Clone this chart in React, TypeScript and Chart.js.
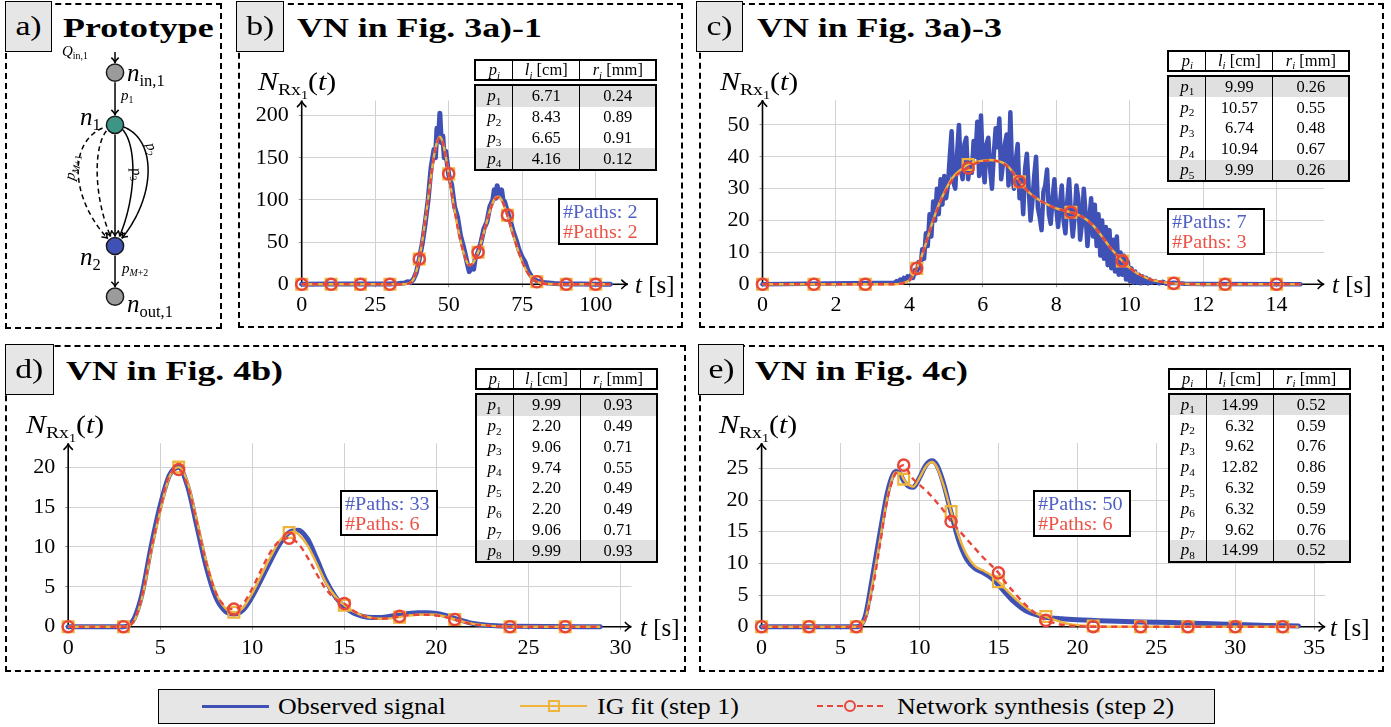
import React, { useEffect, useRef } from "react";
import { Chart, registerables } from "chart.js";

Chart.register(...registerables);

const FONT = "'Liberation Serif', 'Times New Roman', serif";
const BLUE = "#3f51b5";
const ORANGE = "#efb43c";
const RED = "#e8463a";
const GRID = "#d2d2d2";
const BOXGRAY = "#e6e6e6";

type Pt = [number, number];

// ---------------- b) VN in Fig. 3a)-1 ----------------
const bXTicks = [0, 25, 50, 75, 100];
const bYTicks = [0, 50, 100, 150, 200];
const bMarkX = [0, 10, 20, 30, 40, 50, 60, 70, 80, 90, 100];
const bObserved: Pt[] = [
  [0, 0], [10, 0.3], [20, 0.3], [30, 0.5], [33, 1], [35, 1.5], [36, 3], [37, 2], [38, 6], [39, 14],
  [40, 30], [41, 48], [42, 72], [43, 100], [44, 138], [45, 160], [45.5, 150], [46, 185], [46.5, 170],
  [47, 203], [47.5, 168], [48, 176], [48.5, 150], [49, 158], [50, 130], [51, 118], [52, 92], [53, 80],
  [54, 58], [55, 45], [56, 30], [56.5, 22], [57, 15], [58, 22], [58.5, 18], [59, 30], [60, 38], [61, 50],
  [62, 66], [63, 74], [64, 92], [65, 100], [65.5, 112], [66, 102], [66.5, 117], [67, 105], [68, 112],
  [68.5, 100], [69, 98], [70, 86], [71, 75], [72, 62], [73, 52], [74, 40], [75, 32], [76, 26], [77, 16],
  [78, 10], [79, 6], [80, 4], [81, 3], [82, 2], [84, 1.5], [86, 1], [90, 0.5], [95, 0.3], [100, 0.2], [105, 0],
];
const bFit: Pt[] = [
  [0, 0], [10, 0], [20, 0], [30, 0], [34, 0.1], [36, 0.8], [38, 6], [40, 30], [42, 75], [44, 128], [45, 152],
  [46, 168], [47, 175], [48, 168], [49, 152], [50, 131], [52, 88], [54, 52], [56, 28], [57, 22.5], [58, 24],
  [60, 38], [62, 62], [64, 87], [65, 97], [66, 103], [67, 104], [68, 100], [70, 82], [72, 58], [74, 36],
  [76, 19], [78, 8], [80, 3], [82, 1], [85, 0.3], [90, 0], [100, 0], [105, 0],
];
const bSynth: Pt[] = [
  [0, 0], [10, 0], [20, 0], [30, 0], [34, 0.1], [36, 0.8], [38, 6], [40, 30], [42, 74], [44, 127], [45, 151],
  [46, 167], [47, 174], [48, 168], [49, 152], [50, 131], [52, 88], [54, 52], [56, 28], [57, 22.5], [58, 24],
  [60, 38], [62, 62], [64, 86], [65, 96], [66, 102], [67, 103], [68, 100], [70, 82], [72, 58], [74, 36],
  [76, 19], [78, 8], [80, 3], [82, 1], [85, 0.3], [90, 0], [100, 0], [105, 0],
];
const bLengths = ["6.71", "8.43", "6.65", "4.16"];
const bRadii = ["0.24", "0.89", "0.91", "0.12"];
const bPaths = [2, 2];

// ---------------- c) VN in Fig. 3a)-3 ----------------
const cXTicks = [0, 2, 4, 6, 8, 10, 12, 14];
const cYTicks = [0, 10, 20, 30, 40, 50];
const cMarkX = [0, 1.4, 2.8, 4.2, 5.6, 7, 8.4, 9.8, 11.2, 12.6, 14];
const cObserved: Pt[] = [
  [0, 0], [3.6, 0.5], [3.65, 1], [3.7, 0.6], [3.75, 1.5], [3.8, 1], [3.85, 2], [3.9, 1.2], [3.95, 2.5],
  [4.0, 1.5], [4.05, 3], [4.1, 2], [4.15, 4.5], [4.2, 3.5], [4.25, 7], [4.3, 5], [4.35, 11], [4.4, 8],
  [4.45, 16], [4.5, 12], [4.55, 22], [4.6, 15], [4.65, 26], [4.7, 20], [4.75, 30], [4.8, 22], [4.85, 33],
  [4.9, 25], [4.95, 34], [5.0, 27], [5.05, 31], [5.1, 40], [5.15, 48], [5.2, 32], [5.25, 30], [5.3, 41],
  [5.35, 50], [5.4, 36], [5.45, 33], [5.5, 44], [5.55, 46], [5.6, 33], [5.65, 38], [5.7, 35], [5.75, 45],
  [5.8, 40], [5.85, 51], [5.9, 34], [5.95, 53], [6.0, 37], [6.05, 32], [6.1, 44], [6.15, 46], [6.2, 36],
  [6.25, 30], [6.3, 41], [6.35, 49], [6.4, 43], [6.45, 52], [6.5, 33], [6.55, 38], [6.6, 44], [6.65, 47],
  [6.7, 31], [6.75, 54], [6.8, 34], [6.85, 30], [6.9, 39], [6.95, 44], [7.0, 27], [7.05, 33], [7.1, 22],
  [7.15, 36], [7.2, 41], [7.25, 30], [7.3, 20], [7.35, 26], [7.4, 34], [7.45, 40], [7.5, 24], [7.55, 21],
  [7.6, 17], [7.65, 29], [7.7, 31], [7.75, 36], [7.8, 22], [7.85, 19], [7.9, 27], [7.95, 33], [8.0, 24],
  [8.05, 18], [8.1, 25], [8.15, 31], [8.2, 20], [8.25, 16], [8.3, 26], [8.35, 33], [8.4, 22], [8.45, 15],
  [8.5, 21], [8.55, 31], [8.6, 27], [8.65, 14], [8.7, 19], [8.75, 30], [8.8, 22], [8.85, 12], [8.9, 20],
  [8.95, 27], [9.0, 15], [9.05, 25], [9.1, 12], [9.15, 22], [9.2, 9], [9.25, 20], [9.3, 8], [9.35, 18],
  [9.4, 6], [9.45, 17], [9.5, 5], [9.55, 14], [9.6, 4], [9.65, 15], [9.7, 3], [9.75, 10], [9.8, 3],
  [9.85, 9], [9.9, 1.5], [9.95, 7], [10.0, 1], [10.05, 5], [10.1, 0.5], [10.15, 4], [10.2, 0.5],
  [10.25, 3], [10.3, 0.3], [10.35, 2.5], [10.4, 0.5], [10.45, 2], [10.5, 0.3], [10.55, 1.5], [10.6, 0.5],
  [10.7, 1], [10.8, 0.3], [10.9, 0.8], [11.0, 0.2], [11.2, 0.5], [11.5, 0.2], [12, 0.1], [14.65, 0],
];
const cFit: Pt[] = [
  [0, 0], [1.4, 0], [2.8, 0], [3.6, 0], [3.8, 0.3], [4, 1.3], [4.2, 5], [4.4, 11], [4.6, 18.5], [4.8, 25],
  [5, 30], [5.2, 33.8], [5.4, 36], [5.6, 37.6], [5.8, 38.4], [6, 38.8], [6.2, 39], [6.4, 38.7], [6.6, 37.8],
  [6.8, 35.5], [7, 32.2], [7.2, 29.5], [7.4, 27.5], [7.6, 26], [7.8, 24.8], [8, 23.8], [8.2, 23.2],
  [8.4, 22.6], [8.6, 21.8], [8.8, 20.5], [9, 18.5], [9.2, 15.7], [9.4, 12.6], [9.6, 9.8], [9.8, 7.3],
  [10, 5.2], [10.2, 3.5], [10.4, 2.3], [10.6, 1.4], [10.8, 0.9], [11, 0.5], [11.2, 0.3], [11.6, 0.1],
  [12, 0], [12.6, 0], [14, 0], [14.65, 0],
];
const cSynth: Pt[] = [
  [0, 0], [1.4, 0], [2.8, 0], [3.6, 0], [3.8, 0.3], [4, 1.3], [4.2, 5], [4.4, 11], [4.6, 18.3], [4.8, 24.6],
  [5, 29.5], [5.2, 33.2], [5.4, 35.3], [5.6, 36.5], [5.8, 37.9], [6, 38.6], [6.2, 38.9], [6.4, 38.6], [6.6, 37.6],
  [6.8, 35.3], [7, 32.2], [7.2, 29.5], [7.4, 27.5], [7.6, 26], [7.8, 24.8], [8, 23.8], [8.2, 23.2],
  [8.4, 22.6], [8.6, 21.8], [8.8, 20.5], [9, 18.5], [9.2, 15.7], [9.4, 12.6], [9.6, 9.8], [9.8, 7.3],
  [10, 5.2], [10.2, 3.5], [10.4, 2.3], [10.6, 1.4], [10.8, 0.9], [11, 0.5], [11.2, 0.3], [11.6, 0.1],
  [12, 0], [12.6, 0], [14, 0], [14.65, 0],
];
const cLengths = ["9.99", "10.57", "6.74", "10.94", "9.99"];
const cRadii = ["0.26", "0.55", "0.48", "0.67", "0.26"];
const cPaths = [7, 3];

// ---------------- d) VN in Fig. 4b) ----------------
const dXTicks = [0, 5, 10, 15, 20, 25, 30];
const dYTicks = [0, 5, 10, 15, 20];
const dMarkX = [0, 3, 6, 9, 12, 15, 18, 21, 24, 27];
const dObserved: Pt[] = [
  [0, 0], [3, 0], [3.3, 0.2], [3.6, 1.1], [4, 4], [4.5, 10], [5, 15.2], [5.5, 19], [6, 20], [6.5, 17.5],
  [7, 12.5], [7.5, 7.5], [8, 3.8], [8.5, 2], [9, 1.6], [9.5, 2.1], [10, 3.8], [10.5, 6], [11, 8.3],
  [11.5, 10.4], [12, 11.8], [12.5, 12.1], [13, 11], [13.5, 8.5], [14, 5.8], [14.5, 3.8], [15, 2.5],
  [15.5, 1.7], [16, 1.3], [16.5, 1.15], [17, 1.15], [17.5, 1.3], [18, 1.5], [18.5, 1.65], [19, 1.75],
  [19.5, 1.75], [20, 1.65], [20.5, 1.4], [21, 1.05], [21.5, 0.7], [22, 0.4], [23, 0.15], [24, 0.05], [28.9, 0],
];
const dFit: Pt[] = [
  [0, 0], [3, 0], [3.3, 0.1], [3.6, 0.8], [4, 3.5], [4.5, 9.3], [5, 14.5], [5.5, 18.8], [6, 20],
  [6.5, 18], [7, 13.2], [7.5, 8.2], [8, 4.4], [8.5, 2.4], [9, 1.8], [9.5, 2.4], [10, 4.2], [10.5, 6.5],
  [11, 8.8], [11.5, 10.8], [12, 11.8], [12.3, 11.9], [12.5, 11.6], [13, 10.2], [13.5, 7.9], [14, 5.5],
  [14.5, 3.8], [15, 2.7], [15.5, 1.9], [16, 1.4], [16.5, 1.1], [17, 1], [17.5, 1.05], [18, 1.2],
  [18.5, 1.4], [19, 1.5], [19.5, 1.55], [20, 1.5], [20.5, 1.25], [21, 0.9], [21.5, 0.6], [22, 0.35],
  [23, 0.1], [24, 0], [27, 0], [28.9, 0],
];
const dSynth: Pt[] = [
  [0, 0], [3, 0], [3.3, 0.1], [3.6, 0.9], [4, 3.7], [4.5, 9.6], [5, 14.8], [5.5, 19], [6, 19.7],
  [6.5, 17.6], [7, 12.9], [7.5, 8], [8, 4.4], [8.5, 2.6], [9, 2.2], [9.5, 2.9], [10, 4.8], [10.5, 7.2],
  [11, 9.4], [11.5, 10.8], [12, 11.1], [12.5, 10.4], [13, 8.7], [13.5, 6.6], [14, 4.7], [14.5, 3.5],
  [15, 2.9], [15.5, 2], [16, 1.4], [16.5, 1.1], [17, 1], [17.5, 1.1], [18, 1.3], [18.5, 1.45], [19, 1.5],
  [19.5, 1.5], [20, 1.4], [20.5, 1.2], [21, 0.9], [21.5, 0.55], [22, 0.3], [23, 0.1], [24, 0], [27, 0], [28.9, 0],
];
const dLengths = ["9.99", "2.20", "9.06", "9.74", "2.20", "2.20", "9.06", "9.99"];
const dRadii = ["0.93", "0.49", "0.71", "0.55", "0.49", "0.49", "0.71", "0.93"];
const dPaths = [33, 6];

// ---------------- e) VN in Fig. 4c) ----------------
const eXTicks = [0, 5, 10, 15, 20, 25, 30, 35];
const eYTicks = [0, 5, 10, 15, 20, 25];
const eMarkX = [0, 3, 6, 9, 12, 15, 18, 21, 24, 27, 30, 33];
const eObserved: Pt[] = [
  [0, 0], [6, 0], [6.3, 0.3], [6.6, 2], [7, 7.5], [7.5, 14.8], [8, 21.5], [8.5, 24.5], [8.8, 24],
  [9, 23], [9.3, 22.2], [9.6, 22], [10, 23.5], [10.4, 25.5], [10.8, 26.2], [11.1, 25.5], [11.5, 22.8],
  [12, 18], [12.5, 13.5], [13, 10.6], [13.5, 9.2], [14, 8.6], [14.5, 7.8], [15, 6.6], [15.5, 5.2],
  [16, 3.9], [16.5, 2.9], [17, 2.2], [17.5, 1.8], [18, 1.5], [19, 1.25], [20, 1.1], [22, 0.9], [24, 0.75],
  [26, 0.65], [28, 0.5], [30, 0.35], [32, 0.2], [34, 0.1],
];
const eFit: Pt[] = [
  [0, 0], [3, 0], [6, 0], [6.3, 0.2], [6.6, 1.5], [7, 6.5], [7.5, 13.7], [8, 20.8], [8.5, 24.4],
  [8.8, 24.2], [9, 23.3], [9.3, 22.4], [9.6, 22.1], [10, 23.5], [10.4, 25.3], [10.8, 26], [11.1, 25.2],
  [11.5, 22.5], [12, 18.2], [12.5, 14.2], [13, 11.3], [13.5, 9.6], [14, 8.9], [14.5, 8.2], [15, 7.1],
  [15.5, 5.8], [16, 4.6], [16.5, 3.5], [17, 2.6], [17.5, 2], [18, 1.6], [18.5, 1.1], [19, 0.7],
  [19.5, 0.4], [20, 0.25], [21, 0.1], [22, 0], [24, 0], [27, 0], [30, 0], [33, 0], [34, 0],
];
const eSynth: Pt[] = [
  [0, 0], [3, 0], [6, 0], [6.3, 0.3], [6.6, 1.5], [7, 5.5], [7.5, 13], [8, 20.5], [8.5, 24.3], [9, 25.5],
  [9.5, 23.6], [10, 22.4], [10.5, 21.3], [11, 19.9], [11.5, 18.4], [12, 16.6], [12.5, 15.2], [13, 13.8],
  [13.5, 12.4], [14, 11], [14.5, 9.8], [15, 8.5], [15.5, 6.8], [16, 5.4], [16.5, 4], [17, 2.8],
  [17.5, 1.8], [18, 1], [18.5, 0.6], [19, 0.3], [20, 0.1], [21, 0], [24, 0], [27, 0], [30, 0], [33, 0], [34, 0],
];
const eLengths = ["14.99", "6.32", "9.62", "12.82", "6.32", "6.32", "9.62", "14.99"];
const eRadii = ["0.52", "0.59", "0.76", "0.86", "0.59", "0.59", "0.76", "0.52"];
const ePaths = [50, 6];

// ---------------- a) Prototype network ----------------
const nodeLevels = [4.42, 3.39, 1.0, 0];
const nodeColors = ["#9b9b9b", "#3d9685", BLUE, "#9b9b9b"];
const parallelBends = [0.87, 0.47, -0.47, -0.97];
const parallelDashed = [false, false, true, true];

// ---------------- helpers ----------------
const sub: React.CSSProperties = { fontSize: "0.66em", position: "relative", top: "0.32em", fontStyle: "normal" };

function arrowHead(ctx: CanvasRenderingContext2D, x: number, y: number, ang: number, len = 7.5) {
  const a1 = ang + Math.PI - 0.6;
  const a2 = ang + Math.PI + 0.6;
  ctx.beginPath();
  ctx.moveTo(x + len * Math.cos(a1), y + len * Math.sin(a1));
  ctx.quadraticCurveTo(x - 2 * Math.cos(ang), y - 2 * Math.sin(ang), x, y);
  ctx.quadraticCurveTo(x - 2 * Math.cos(ang), y - 2 * Math.sin(ang), x + len * Math.cos(a2), y + len * Math.sin(a2));
  ctx.stroke();
}

const axesPlugin = {
  id: "axesArrows",
  beforeDatasetsDraw(chart: any) {
    const { ctx, chartArea: a, scales } = chart;
    const x0 = scales.x.getPixelForValue(0);
    const y0 = scales.y.getPixelForValue(0);
    ctx.save();
    ctx.setLineDash([]);
    ctx.strokeStyle = "#000";
    ctx.lineWidth = 1.6;
    ctx.lineCap = "round";
    ctx.beginPath();
    ctx.moveTo(x0, y0);
    ctx.lineTo(a.right - 1, y0);
    ctx.moveTo(x0, y0);
    ctx.lineTo(x0, a.top + 1);
    ctx.stroke();
    arrowHead(ctx, a.right, y0, 0);
    arrowHead(ctx, x0, a.top, -Math.PI / 2);
    ctx.restore();
  },
};

type PlotSpec = {
  canvas: { x: number; y: number; w: number; h: number };
  area: { left: number; right: number; top: number; bottom: number };
  xMax: number;
  yMax: number;
  xTicks: number[];
  yTicks: number[];
  markX: number[];
  observed: Pt[];
  fit: Pt[];
  synth: Pt[];
  noisy: boolean;
  obsWidth: number;
};

function Plot({ s }: { s: PlotSpec }) {
  const ref = useRef<HTMLCanvasElement>(null);
  useEffect(() => {
    const YW = 50;
    const XH = 36;
    const pad = {
      left: s.area.left - s.canvas.x - YW,
      right: s.canvas.x + s.canvas.w - s.area.right,
      top: s.area.top - s.canvas.y,
      bottom: s.canvas.y + s.canvas.h - s.area.bottom - XH,
    };
    const toXY = (arr: Pt[]) => arr.map(([x, y]) => ({ x, y }));
    const markR = (r: number) => (ctx: any) => (ctx.raw && s.markX.includes(ctx.raw.x) ? r : 0);
    const tickFont = { family: FONT, size: 22 };
    const chart = new Chart(ref.current as HTMLCanvasElement, {
      type: "line",
      data: {
        datasets: [
          {
            label: "Network synthesis (step 2)",
            data: toXY(s.synth),
            borderColor: RED,
            borderWidth: 2.4,
            borderDash: [6, 4.5],
            pointStyle: "circle",
            pointRadius: markR(5.6),
            pointBorderColor: RED,
            pointBackgroundColor: "rgba(0,0,0,0)",
            pointBorderWidth: 2.4,
            cubicInterpolationMode: "monotone",
            clip: false,
            order: 1,
          } as any,
          {
            label: "IG fit (step 1)",
            data: toXY(s.fit),
            borderColor: ORANGE,
            borderWidth: 2.4,
            pointStyle: "rect",
            pointRadius: markR(7.6),
            pointBorderColor: ORANGE,
            pointBackgroundColor: "rgba(0,0,0,0)",
            pointBorderWidth: 2.3,
            cubicInterpolationMode: "monotone",
            clip: false,
            order: 2,
          },
          {
            label: "Observed signal",
            data: toXY(s.observed),
            borderColor: BLUE,
            borderWidth: s.obsWidth,
            borderJoinStyle: "round",
            borderCapStyle: "round",
            pointRadius: 0,
            tension: 0,
            cubicInterpolationMode: s.noisy ? "default" : "monotone",
            clip: false,
            order: 3,
          },
        ],
      },
      options: {
        responsive: false,
        maintainAspectRatio: false,
        animation: false,
        devicePixelRatio: 1,
        events: [],
        layout: { autoPadding: false, padding: pad },
        plugins: { legend: { display: false }, tooltip: { enabled: false } },
        scales: {
          x: {
            type: "linear",
            min: 0,
            max: s.xMax,
            afterBuildTicks: (sc: any) => {
              sc.ticks = s.xTicks.map((v) => ({ value: v }));
            },
            afterFit: (sc: any) => {
              sc.height = XH;
            },
            grid: { color: GRID, lineWidth: 1, drawTicks: true, tickLength: 3, tickColor: "#999" },
            border: { display: false },
            ticks: { color: "#000", font: tickFont, padding: 5, maxRotation: 0, autoSkip: false, callback: (v: any) => String(v) },
          },
          y: {
            type: "linear",
            min: 0,
            max: s.yMax,
            afterBuildTicks: (sc: any) => {
              sc.ticks = s.yTicks.map((v) => ({ value: v }));
            },
            afterFit: (sc: any) => {
              sc.width = YW;
            },
            grid: { color: GRID, lineWidth: 1, drawTicks: true, tickLength: 3, tickColor: "#999" },
            border: { display: false },
            ticks: { color: "#000", font: tickFont, padding: 10, autoSkip: false, callback: (v: any) => String(v) },
          },
        },
      } as any,
      plugins: [axesPlugin],
    });
    return () => chart.destroy();
  }, []);
  return (
    <canvas
      ref={ref}
      width={s.canvas.w}
      height={s.canvas.h}
      style={{ position: "absolute", left: s.canvas.x, top: s.canvas.y, width: s.canvas.w, height: s.canvas.h, zIndex: 1 }}
    />
  );
}

function cubicPt(p: number[][], t: number) {
  const u = 1 - t;
  const x = u * u * u * p[0][0] + 3 * u * u * t * p[1][0] + 3 * u * t * t * p[2][0] + t * t * t * p[3][0];
  const y = u * u * u * p[0][1] + 3 * u * u * t * p[1][1] + 3 * u * t * t * p[2][1] + t * t * t * p[3][1];
  return [x, y];
}

const diagramPlugin = {
  id: "diagram",
  beforeDatasetsDraw(chart: any) {
    const { ctx, scales } = chart;
    const cx = scales.x.getPixelForValue(0);
    const unit = Math.abs(scales.x.getPixelForValue(1) - cx);
    const ys = nodeLevels.map((v) => scales.y.getPixelForValue(v));
    const R = 9.6;
    ctx.save();
    ctx.strokeStyle = "#000";
    ctx.lineWidth = 1.5;
    ctx.beginPath();
    ctx.moveTo(cx - 13, ys[0] - 23.5);
    ctx.lineTo(cx, ys[0] - 23.5);
    ctx.lineTo(cx, ys[0] - R);
    ctx.stroke();
    arrowHead(ctx, cx, ys[0] - R, Math.PI / 2, 6.5);
    const straight = (ya: number, yb: number) => {
      ctx.beginPath();
      ctx.moveTo(cx, ya + R);
      ctx.lineTo(cx, yb - R);
      ctx.stroke();
      arrowHead(ctx, cx, yb - R, Math.PI / 2, 6.5);
    };
    straight(ys[0], ys[1]);
    straight(ys[1], ys[2]);
    straight(ys[2], ys[3]);
    const dy = ys[2] - ys[1];
    parallelBends.forEach((b, i) => {
      const bx = b * unit;
      const p = [
        [cx, ys[1]],
        [cx + bx, ys[1] + 0.05 * dy],
        [cx + bx, ys[2] - 0.38 * dy],
        [cx, ys[2]],
      ];
      let tEnd = 1;
      for (let t = 1; t > 0.5; t -= 0.002) {
        const q = cubicPt(p, t);
        if (Math.hypot(q[0] - cx, q[1] - ys[2]) > R + 0.5) {
          tEnd = t;
          break;
        }
      }
      ctx.setLineDash(parallelDashed[i] ? [5, 3.5] : []);
      ctx.beginPath();
      let first = true;
      for (let t = 0.03; t <= tEnd; t += 0.005) {
        const q = cubicPt(p, t);
        if (first) {
          ctx.moveTo(q[0], q[1]);
          first = false;
        } else ctx.lineTo(q[0], q[1]);
      }
      ctx.stroke();
      ctx.setLineDash([]);
      const e = cubicPt(p, tEnd);
      const e0 = cubicPt(p, tEnd - 0.03);
      arrowHead(ctx, e[0], e[1], Math.atan2(e[1] - e0[1], e[0] - e0[0]), 6.5);
    });
    ctx.restore();
  },
};

function Diagram() {
  const ref = useRef<HTMLCanvasElement>(null);
  useEffect(() => {
    const chart = new Chart(ref.current as HTMLCanvasElement, {
      type: "scatter",
      data: {
        datasets: [
          {
            data: nodeLevels.map((v) => ({ x: 0, y: v })),
            pointRadius: 8.6,
            pointBackgroundColor: nodeColors,
            pointBorderColor: "#1a1a1a",
            pointBorderWidth: 1.5,
            clip: false,
          } as any,
        ],
      },
      options: {
        responsive: false,
        animation: false,
        devicePixelRatio: 1,
        events: [],
        layout: { autoPadding: false, padding: 0 },
        plugins: { legend: { display: false }, tooltip: { enabled: false } },
        scales: {
          x: { type: "linear", min: -2.15, max: 2.09, display: false },
          y: { type: "linear", min: -0.617, max: 4.826, display: false },
        },
      } as any,
      plugins: [diagramPlugin],
    });
    return () => chart.destroy();
  }, []);
  return <canvas ref={ref} width={215} height={276} style={{ position: "absolute", left: 6, top: 52, width: 215, height: 276, zIndex: 1 }} />;
}

function Txt(props: {
  x: number;
  y: number;
  size: number;
  children: React.ReactNode;
  italic?: boolean;
  bold?: boolean;
  sx?: number;
  color?: string;
  rot?: number;
  center?: boolean;
}) {
  const { x, y, size, children, italic, bold, sx = 1, color = "#000", rot, center } = props;
  const tr = `${center ? "translate(-50%,-50%)" : "translateY(-50%)"}${rot ? ` rotate(${rot}deg)` : ""} scaleX(${sx})`;
  return (
    <div
      style={{
        position: "absolute",
        left: x,
        top: y,
        fontFamily: FONT,
        fontSize: size,
        fontStyle: italic ? "italic" : "normal",
        fontWeight: bold ? 700 : 400,
        lineHeight: 1,
        whiteSpace: "nowrap",
        color,
        transform: tr,
        transformOrigin: center ? "center" : "left center",
        zIndex: 3,
      }}
    >
      {children}
    </div>
  );
}

function DashedBox({ x, y, w, h }: { x: number; y: number; w: number; h: number }) {
  return <div style={{ position: "absolute", left: x, top: y, width: w, height: h, border: "2px dashed #000", boxSizing: "border-box", zIndex: 0 }} />;
}

function LabelBox({ x, y, w, text }: { x: number; y: number; w: number; text: string }) {
  return (
    <div
      style={{
        position: "absolute",
        left: x,
        top: y,
        width: w,
        height: 51,
        background: BOXGRAY,
        border: "1.6px solid #000",
        boxSizing: "border-box",
        display: "flex",
        alignItems: "center",
        justifyContent: "center",
        fontFamily: FONT,
        fontSize: 27,
        zIndex: 4,
      }}
    >
      <span style={{ display: "inline-block", transform: "scaleX(1.25)" }}>{text}</span>
    </div>
  );
}

function Title({ x, y, text }: { x: number; y: number; text: string }) {
  return (
    <Txt x={x} y={y} size={28} bold sx={1.28}>
      {text}
    </Txt>
  );
}

function NLabel({ x, y }: { x: number; y: number }) {
  return (
    <Txt x={x} y={y} size={26} sx={1.15}>
      <i>N</i>
      <span style={sub}>
        Rx<span style={{ fontSize: "0.72em", position: "relative", top: "0.25em" }}>1</span>
      </span>
      (<i>t</i>)
    </Txt>
  );
}

function TLabel({ x, y }: { x: number; y: number }) {
  return (
    <Txt x={x} y={y} size={25}>
      <i>t</i> [s]
    </Txt>
  );
}

function ParamTable({ x, y, lengths, radii }: { x: number; y: number; lengths: string[]; radii: string[] }) {
  const cols = [37, 67, 75];
  const rowH = 20.8;
  const cell = (i: number, content: React.ReactNode) => (
    <div
      key={i}
      style={{
        width: cols[i],
        height: "100%",
        boxSizing: "border-box",
        borderRight: i < 2 ? "1.5px solid #000" : "none",
        display: "flex",
        alignItems: "center",
        justifyContent: "center",
      }}
    >
      {content}
    </div>
  );
  return (
    <div style={{ position: "absolute", left: x, top: y, width: 183, fontFamily: FONT, fontSize: 16.5, zIndex: 3 }}>
      <div style={{ display: "flex", height: 21.5, border: "2px solid #000", boxSizing: "border-box", background: "#fff" }}>
        {cell(0, <span><i>p</i><span style={sub}><i>i</i></span></span>)}
        {cell(1, <span><i>l</i><span style={sub}><i>i</i></span> [cm]</span>)}
        {cell(2, <span><i>r</i><span style={sub}><i>i</i></span> [mm]</span>)}
      </div>
      <div style={{ marginTop: 3, border: "2px solid #000", boxSizing: "border-box", background: "#fff" }}>
        {lengths.map((l, k) => (
          <div
            key={k}
            style={{ display: "flex", height: rowH, background: k === 0 || k === lengths.length - 1 ? "#e0e0e0" : "#fff" }}
          >
            {cell(0, <span style={{ fontSize: 17 }}><i>p</i><span style={sub}>{k + 1}</span></span>)}
            {cell(1, l)}
            {cell(2, radii[k])}
          </div>
        ))}
      </div>
    </div>
  );
}

function PathsBox({ x, y, w, h, counts }: { x: number; y: number; w: number; h: number; counts: number[] }) {
  return (
    <div
      style={{
        position: "absolute",
        left: x,
        top: y,
        width: w,
        height: h,
        border: "2px solid #000",
        boxSizing: "border-box",
        background: "#fff",
        fontFamily: FONT,
        fontSize: 18,
        lineHeight: "20px",
        paddingTop: 2,
        paddingLeft: 3,
        zIndex: 3,
      }}
    >
      <div style={{ color: "#4f5fc4", transform: "scaleX(1.12)", transformOrigin: "left" }}>#Paths: {counts[0]}</div>
      <div style={{ color: "#ec5346", transform: "scaleX(1.12)", transformOrigin: "left" }}>#Paths: {counts[1]}</div>
    </div>
  );
}

const specB: PlotSpec = {
  canvas: { x: 239, y: 52, w: 443, h: 275 },
  area: { left: 301.7, right: 628, top: 100.5, bottom: 284.3 },
  xMax: 111, yMax: 218, xTicks: bXTicks, yTicks: bYTicks, markX: bMarkX,
  observed: bObserved, fit: bFit, synth: bSynth, noisy: true, obsWidth: 5,
};
const specC: PlotSpec = {
  canvas: { x: 700, y: 52, w: 684, h: 275 },
  area: { left: 762.5, right: 1324.3, top: 100.1, bottom: 284.3 },
  xMax: 15.3, yMax: 57.8, xTicks: cXTicks, yTicks: cYTicks, markX: cMarkX,
  observed: cObserved, fit: cFit, synth: cSynth, noisy: true, obsWidth: 4.5,
};
const specD: PlotSpec = {
  canvas: { x: 6, y: 396, w: 680, h: 275 },
  area: { left: 68.2, right: 631.5, top: 443.2, bottom: 626.7 },
  xMax: 30.6, yMax: 23, xTicks: dXTicks, yTicks: dYTicks, markX: dMarkX,
  observed: dObserved, fit: dFit, synth: dSynth, noisy: false, obsWidth: 5,
};
const specE: PlotSpec = {
  canvas: { x: 700, y: 396, w: 684, h: 275 },
  area: { left: 761.6, right: 1325.3, top: 443, bottom: 626.7 },
  xMax: 35.7, yMax: 29, xTicks: eXTicks, yTicks: eYTicks, markX: eMarkX,
  observed: eObserved, fit: eFit, synth: eSynth, noisy: false, obsWidth: 5,
};

function Legend() {
  const itemText = (x: number, t: string) => (
    <Txt x={x} y={706} size={24} sx={1.08}>
      {t}
    </Txt>
  );
  return (
    <>
      <div
        style={{
          position: "absolute",
          left: 158,
          top: 689,
          width: 1057,
          height: 35,
          background: BOXGRAY,
          border: "1.8px solid #000",
          boxSizing: "border-box",
          zIndex: 2,
        }}
      />
      <div style={{ position: "absolute", left: 202, top: 704.5, width: 67, height: 3, background: BLUE, zIndex: 3 }} />
      {itemText(278, "Observed signal")}
      <div style={{ position: "absolute", left: 520, top: 705, width: 67, height: 2.4, background: ORANGE, zIndex: 3 }} />
      <div
        style={{ position: "absolute", left: 547.5, top: 700, width: 12, height: 12, border: `2.3px solid ${ORANGE}`, boxSizing: "border-box", zIndex: 3 }}
      />
      {itemText(597, "IG fit (step 1)")}
      <div style={{ position: "absolute", left: 817, top: 705, width: 66, height: 0, borderTop: `2.4px dashed ${RED}`, zIndex: 3 }} />
      <div
        style={{
          position: "absolute",
          left: 843.5,
          top: 700,
          width: 12,
          height: 12,
          borderRadius: "50%",
          border: `2.3px solid ${RED}`,
          boxSizing: "border-box",
          background: BOXGRAY,
          zIndex: 4,
        }}
      />
      {itemText(897, "Network synthesis (step 2)")}
    </>
  );
}

export default function App() {
  return (
    <div style={{ position: "absolute", left: 0, top: 0, width: 1391, height: 727, background: "#fff", overflow: "hidden", fontFamily: FONT }}>
      <DashedBox x={5} y={3} w={217} h={326} />
      <DashedBox x={238} y={3} w={445} h={325} />
      <DashedBox x={699} y={3} w={685} h={325} />
      <DashedBox x={5} y={345} w={681} h={327} />
      <DashedBox x={699} y={345} w={685} h={327} />

      <LabelBox x={5} y={1} w={47} text="a)" />
      <LabelBox x={236} y={1} w={48} text="b)" />
      <LabelBox x={696} y={1} w={47} text="c)" />
      <LabelBox x={5} y={344} w={49} text="d)" />
      <LabelBox x={698} y={344} w={46} text="e)" />

      <Title x={63} y={28} text="Prototype" />
      <Title x={297} y={28} text="VN in Fig. 3a)-1" />
      <Title x={757} y={28} text="VN in Fig. 3a)-3" />
      <Title x={66} y={371} text="VN in Fig. 4b)" />
      <Title x={755} y={371} text="VN in Fig. 4c)" />

      <Diagram />
      <Txt x={62} y={51} size={15}>
        <i>Q</i>
        <span style={sub}>in,1</span>
      </Txt>
      <Txt x={127} y={72} size={25}>
        <i>n</i>
        <span style={sub}>in,1</span>
      </Txt>
      <Txt x={121} y={95} size={15}>
        <i>p</i>
        <span style={sub}>1</span>
      </Txt>
      <Txt x={80} y={116} size={25}>
        <i>n</i>
        <span style={sub}>1</span>
      </Txt>
      <Txt x={152} y={149} size={15} center rot={72}>
        <i>p</i>
        <span style={sub}>2</span>
      </Txt>
      <Txt x={137} y={174} size={15} center rot={80}>
        <i>p</i>
        <span style={sub}>3</span>
      </Txt>
      <Txt x={72} y={167} size={15} center rot={-78}>
        <i>p</i>
        <span style={sub}>
          <i>M</i>+1
        </span>
      </Txt>
      <Txt x={80} y={256} size={25}>
        <i>n</i>
        <span style={sub}>2</span>
      </Txt>
      <Txt x={122} y={268} size={15}>
        <i>p</i>
        <span style={sub}>
          <i>M</i>+2
        </span>
      </Txt>
      <Txt x={127} y={303} size={25}>
        <i>n</i>
        <span style={sub}>out,1</span>
      </Txt>

      <Plot s={specB} />
      <NLabel x={258} y={82} />
      <TLabel x={635} y={284} />
      <ParamTable x={474.3} y={59.3} lengths={bLengths} radii={bRadii} />
      <PathsBox x={557.7} y={198} w={100} h={47} counts={bPaths} />

      <Plot s={specC} />
      <NLabel x={720} y={82} />
      <TLabel x={1332} y={284} />
      <ParamTable x={1167.4} y={50} lengths={cLengths} radii={cRadii} />
      <PathsBox x={1167.4} y={208} w={98} h={47} counts={cPaths} />

      <Plot s={specD} />
      <NLabel x={26.4} y={425} />
      <TLabel x={640} y={626.7} />
      <ParamTable x={474.5} y={368.3} lengths={dLengths} radii={dRadii} />
      <PathsBox x={339.8} y={490} w={98} h={46} counts={dPaths} />

      <Plot s={specE} />
      <NLabel x={719.4} y={425} />
      <TLabel x={1330} y={626.7} />
      <ParamTable x={1167.7} y={368} lengths={eLengths} radii={eRadii} />
      <PathsBox x={1033} y={490} w={98} h={47} counts={ePaths} />

      <Legend />
    </div>
  );
}
